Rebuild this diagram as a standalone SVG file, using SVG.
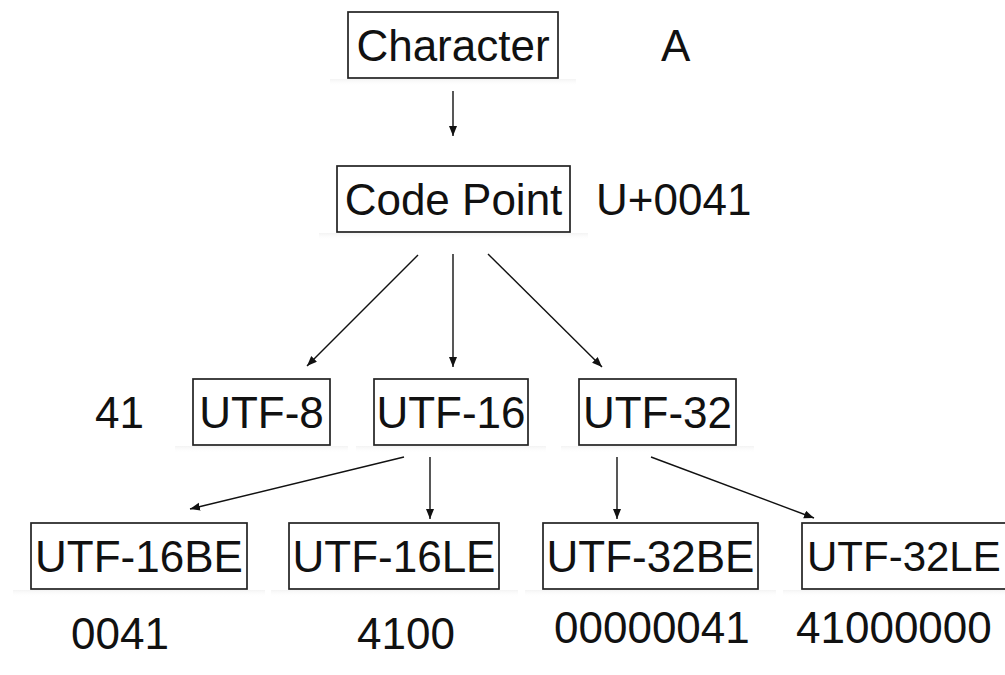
<svg xmlns="http://www.w3.org/2000/svg" width="1005" height="675" viewBox="0 0 1005 675">
  <defs>
    <marker id="arrow" markerUnits="userSpaceOnUse" markerWidth="12" markerHeight="10" refX="10" refY="4" orient="auto">
      <path d="M0,0 L10,4 L0,8 Z" fill="#111"/>
    </marker>
    <linearGradient id="shadow" x1="0" y1="0" x2="0" y2="1">
      <stop offset="0" stop-color="#eeeeee" stop-opacity="0.7"/>
      <stop offset="1" stop-color="#ffffff" stop-opacity="0"/>
    </linearGradient>
  </defs>
  <style>
    .box { fill: #fff; stroke: #222; stroke-width: 1.7; }
    .shadow { fill: url(#shadow); }
    .t { font-family: "Liberation Sans", Arial, Helvetica, sans-serif; font-size: 44px; fill: #111; }
    .c { text-anchor: middle; }
    .edge { stroke: #111; stroke-width: 1.4; fill: none; marker-end: url(#arrow); }
  </style>
  <rect width="1005" height="675" fill="#fff"/>

  <g id="character">
    <rect class="shadow" x="330" y="79" width="246" height="7"/>
    <rect class="box" x="348" y="12" width="210" height="66"/>
    <text class="t c" x="453" y="61">Character</text>
  </g>
  <g id="label-a"><text class="t" x="661" y="61">A</text></g>

  <g id="codepoint">
    <rect class="shadow" x="319" y="233" width="269" height="7"/>
    <rect class="box" x="337" y="166" width="233" height="66"/>
    <text class="t c" x="453.5" y="215">Code Point</text>
  </g>
  <g id="label-u0041"><text class="t" x="596" y="215">U+0041</text></g>

  <g id="label-41"><text class="t" x="95" y="428">41</text></g>
  <g id="utf8">
    <rect class="shadow" x="175" y="446" width="173" height="7"/>
    <rect class="box" x="193" y="379" width="137" height="66"/>
    <text class="t c" x="261.5" y="428">UTF-8</text>
  </g>
  <g id="utf16">
    <rect class="shadow" x="356" y="446" width="190" height="7"/>
    <rect class="box" x="374" y="379" width="154" height="66"/>
    <text class="t c" x="451" y="428">UTF-16</text>
  </g>
  <g id="utf32">
    <rect class="shadow" x="561" y="446" width="193" height="7"/>
    <rect class="box" x="579" y="379" width="157" height="66"/>
    <text class="t c" x="657.5" y="428">UTF-32</text>
  </g>

  <g id="utf16be">
    <rect class="shadow" x="13" y="590" width="252" height="7"/>
    <rect class="box" x="31" y="523" width="216" height="66"/>
    <text class="t c" x="139" y="572">UTF-16BE</text>
  </g>
  <g id="utf16le">
    <rect class="shadow" x="271" y="590" width="247" height="7"/>
    <rect class="box" x="289" y="523" width="210" height="66"/>
    <text class="t c" x="394" y="572">UTF-16LE</text>
  </g>
  <g id="utf32be">
    <rect class="shadow" x="525" y="590" width="251" height="7"/>
    <rect class="box" x="543" y="523" width="215" height="66"/>
    <text class="t c" x="650.5" y="572">UTF-32BE</text>
  </g>
  <g id="utf32le">
    <rect class="shadow" x="783" y="590" width="240" height="7"/>
    <rect class="box" x="802" y="523" width="215" height="66"/>
    <text class="t" x="807" y="571" style="font-size:42px">UTF-32LE</text>
  </g>

  <g id="values">
    <text class="t" x="71" y="649">0041</text>
    <text class="t" x="357" y="649">4100</text>
    <text class="t" x="554" y="643">00000041</text>
    <text class="t" x="796" y="643">41000000</text>
  </g>

  <g id="connectors">
    <line class="edge" x1="453" y1="91" x2="453" y2="136"/>
    <line class="edge" x1="418" y1="255" x2="307" y2="366"/>
    <line class="edge" x1="453" y1="254" x2="453" y2="367"/>
    <line class="edge" x1="488" y1="254" x2="602" y2="367"/>
    <line class="edge" x1="404" y1="457" x2="190" y2="509"/>
    <line class="edge" x1="430" y1="457" x2="430" y2="519"/>
    <line class="edge" x1="617" y1="457" x2="617" y2="519"/>
    <line class="edge" x1="651" y1="457" x2="814" y2="518"/>
  </g>
</svg>
